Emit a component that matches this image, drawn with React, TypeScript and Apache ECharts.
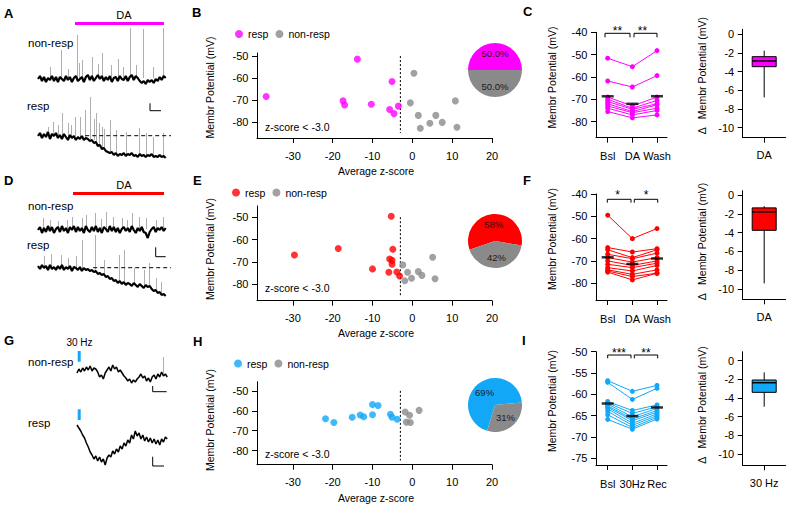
import React, { useEffect, useRef } from 'react';
import * as echarts from 'echarts';

const FONT = '"Liberation Sans", Arial, Helvetica, sans-serif';
const MAGENTA = '#ff00ff';
const RED = '#ff0000';
const BLUE = '#12a8f7';
const GRAY = '#8a8a8a';

// ---------- traces (relative mV, sampled every step) ----------
const stepAD = 3;
const stepG = 2;
const traceA_non = [0,3,-2,2,-3,1,-1,3,-2,2,-3,2,0,-2,3,-1,2,-3,1,3,-2,0,2,-3,2,4,-1,3,-2,1,4,0,3,-2,2,-1,3,-3,1,2,-2,3,0,-1,3,-2,2,4,-1,3,1,-2,-4,-2,-5,-1,-3,-1,-4,0,-2,2,-1,3,1];
const traceA_resp = [1,4,-1,3,0,5,-2,3,1,4,-1,2,-2,3,0,-3,2,-1,1,-3,0,-2,1,-3,-1,-2,-4,-3,-6,-5,-9,-8,-12,-11,-14,-15,-16,-15,-18,-16,-19,-17,-18,-16,-19,-17,-18,-16,-19,-18,-20,-17,-19,-18,-20,-18,-19,-17,-20,-19,-20,-18,-20,-19,-21];
const traceD_non = [0,3,-3,2,-2,4,-1,3,-3,1,3,-2,4,-1,2,-3,3,0,4,-2,3,-1,2,-3,4,0,-2,3,-1,4,-2,2,-3,3,1,-2,4,-1,3,-2,2,-3,1,3,-1,2,-2,4,0,-3,2,-1,3,-2,-3,-8,-2,1,3,-2,2,0,3,-1,2];
const traceD_resp = [2,-1,3,0,2,-2,3,-1,1,-2,2,-1,3,-2,1,-1,2,-3,1,0,-2,1,-3,0,-2,-1,-3,-2,-4,-3,-6,-5,-7,-6,-9,-8,-11,-10,-13,-12,-15,-13,-16,-14,-17,-15,-16,-18,-15,-17,-19,-16,-18,-20,-17,-19,-18,-21,-23,-22,-25,-24,-27,-26,-28];
const traceG_non = [0,4,1,5,2,6,3,7,2,5,4,1,-4,-2,-6,0,3,6,2,8,4,6,1,3,0,-3,-5,-8,-6,-10,-7,-9,-6,-4,-1,-5,-3,-8,-5,-9,-4,-2,-6,-1,-4,1,-3,-1,-4];
const traceG_resp = [0,-3,-6,-10,-13,-18,-22,-27,-30,-34,-31,-36,-32,-37,-34,-40,-33,-30,-32,-26,-29,-24,-27,-21,-24,-18,-21,-15,-18,-10,-14,-6,-11,-8,-14,-10,-16,-12,-17,-13,-18,-14,-19,-15,-20,-14,-17,-12,-14];
// spikes: [time, base, peak]
const spikesA_non = [[18,1,12],[35,1,29],[45,1,10],[59,1,44],[62,1,16],[67,1,19],[82,1,22],[90,1,15],[97,1,26],[110,1,14],[120,1,20],[128,1,12],[138,2,51],[148,1,14],[158,1,50],[174,1,12],[189,1,51]];
const spikesA_resp = [[15,2,10],[23,2,15],[30,1,12],[36,1,24],[45,0,14],[50,0,12],[56,1,20],[64,0,20],[71,-1,27],[79,-2,40],[84,-3,18],[88,-5,24],[92,-7,14],[96,-10,10],[100,-11,8],[108,-14,17],[118,-17,7],[133,-18,5],[153,-18,9],[163,-19,4],[173,-19,0],[188,-20,4]];
const spikesD_non = [[8,1,12],[18,1,10],[30,1,9],[44,1,10],[51,1,13],[66,1,12],[73,1,15],[86,1,17],[95,1,11],[103,1,18],[113,1,13],[126,1,12],[134,1,10],[141,1,17],[153,1,13],[163,1,12],[178,1,10],[188,1,13]];
const spikesD_resp = [[10,2,12],[20,1,14],[35,0,13],[45,0,10],[58,0,12],[66,-1,28],[86,-3,33],[100,-7,8],[122,-13,13],[130,-14,18],[145,-16,0],[160,-17,-2],[168,-18,5],[178,-22,-10],[185,-25,-14]];
const spikesG_non = [[92,-3,16]];
const baselineA = 1.3;
const baselineD = 0.3;

// ---------- scatter panels: [average z-score, membrane potential] ----------
const respB = [[-36.7,-68.4],[-13.8,-51.4],[-17.4,-70.4],[-17.0,-72.3],[-10.3,-71.9],[-5.1,-61.6],[-5.7,-74.3],[-4.6,-76.2],[-3.5,-72.8]];
const nonB = [[0.4,-57.8],[-0.5,-71.3],[1.5,-77.0],[2.0,-82.9],[4.4,-80.6],[5.9,-77.0],[7.5,-80.2],[10.8,-70.4],[11.2,-82.4]];
const respE = [[-29.6,-66.9],[-18.6,-64.0],[-5.3,-49.6],[-4.9,-64.3],[-5.7,-68.7],[-5.1,-69.3],[-5.1,-71.0],[-10.0,-73.1],[-5.9,-74.6],[-3.9,-74.5],[-3.2,-76.3]];
const nonE = [[-2.4,-71.3],[-1.2,-74.6],[-1.9,-78.4],[-0.2,-77.3],[1.5,-74.3],[2.4,-76.0],[5.1,-67.9],[5.7,-77.5]];
const respH = [[-21.8,-64.0],[-19.7,-65.9],[-15.1,-63.3],[-13.1,-62.1],[-12.2,-63.0],[-10.0,-56.9],[-8.6,-57.4],[-10.0,-62.0],[-5.5,-61.8],[-5.1,-63.3],[-3.8,-64.3]];
const nonH = [[-1.8,-60.6],[-0.7,-62.3],[-1.5,-65.7],[-0.5,-65.9],[1.7,-59.8]];
const zThreshold = -3;
const xTicksZ = [-30,-20,-10,0,10,20];
const yTicksMv = [-50,-60,-70,-80];

// ---------- paired panels ----------
const catsDA = ['Bsl','DA','Wash'];
const catsHz = ['Bsl','30Hz','Rec'];
const bslC = [-51.6,-61.8,-69,-70,-71,-72,-73,-74,-75.5];
const daC = [-55.4,-64.5,-73,-74,-74.5,-75.5,-76,-77,-78.3];
const washC = [-48.2,-59.4,-69,-70.5,-72,-72.5,-74,-75,-77];
const bslF = [-49.5,-64,-65,-67,-68.5,-70,-71.5,-73,-74,-74.5,-75];
const daF = [-60,-66,-68.5,-69,-70.5,-72,-73,-74.5,-76,-77,-78.5];
const washF = [-55.5,-64.5,-65,-66.5,-68.5,-70,-71,-72,-74,-75.5,-75.5];
const bslI = [-56.8,-57.2,-61.7,-62,-62.3,-62.7,-63,-63.4,-64,-64.8,-65.9];
const hzI = [-59.3,-61.2,-63.8,-64.5,-65.3,-65.8,-66.2,-66.8,-67.3,-67.8,-68.2];
const recI = [-57.9,-58.6,-62.5,-62.9,-63.3,-63.8,-64.2,-64.6,-65,-65.4,-65.8];
const yTicksC = [-40,-50,-60,-70,-80];
const yTicksI = [-50,-55,-60,-65,-70,-75];

// ---------- box plots: [min, Q1, median, Q3, max] ----------
const boxC = [-6.76,-3.47,-2.86,-2.4,-1.76];
const boxF = [-9.4,-3.75,-1.79,-1.36,-1.18];
const boxI = [-4.93,-3.39,-2.36,-2.07,-1.25];
const yTicksBox = [0,-2,-4,-6,-8,-10];

const mean = (a: number[]) => a.reduce((s, v) => s + v, 0) / a.length;

function buildOption() {
  const grids: any[] = [];
  const xAxes: any[] = [];
  const yAxes: any[] = [];
  const series: any[] = [];

  const lab = (margin: number) => ({ fontSize: 11, color: '#000', fontFamily: FONT, margin });
  const axLine = { show: true, onZero: false, lineStyle: { color: '#000', width: 1 } };
  const tick = { show: true, length: 5, lineStyle: { color: '#000', width: 1 } };

  const hiddenGrid = (left: number, top: number, width: number, height: number, xmin: number, xmax: number, ymin: number, ymax: number) => {
    const gi = grids.length;
    grids.push({ left, top, width, height });
    xAxes.push({ gridIndex: gi, type: 'value', min: xmin, max: xmax, show: false });
    yAxes.push({ gridIndex: gi, type: 'value', min: ymin, max: ymax, show: false });
    return gi;
  };
  const valueGrid = (left: number, top: number, width: number, height: number, xmin: number, xmax: number, xticks: number[], ymin: number, ymax: number, yticks: number[], xfmt?: (v: number) => string, xmargin = 12) => {
    const gi = grids.length;
    grids.push({ left, top, width, height });
    xAxes.push({ gridIndex: gi, type: 'value', min: xmin, max: xmax, splitLine: { show: false }, axisLine: axLine,
      axisTick: { ...tick, customValues: xticks }, axisLabel: { ...lab(xmargin), customValues: xticks, formatter: xfmt || ((v: number) => String(v)) } });
    yAxes.push({ gridIndex: gi, type: 'value', min: ymin, max: ymax, splitLine: { show: false }, axisLine: axLine,
      axisTick: { ...tick, customValues: yticks }, axisLabel: { ...lab(8.5), customValues: yticks } });
    return gi;
  };

  const trace = (gi: number, data: number[], step: number, width: number, spikes?: number[][]) => {
    series.push({
      type: 'line', xAxisIndex: gi, yAxisIndex: gi, silent: true, symbol: 'none', z: 3,
      data: data.map((v, i) => [i * step, v]), lineStyle: { color: '#000', width },
      markLine: spikes ? {
        silent: true, symbol: ['none', 'none'], label: { show: false }, z: 2,
        lineStyle: { color: '#9a9a9a', width: 0.8, type: 'solid' },
        data: spikes.map(([t, b, p]) => [{ coord: [t, b] }, { coord: [t, p] }]),
      } : undefined,
    });
  };
  const dashedH = (gi: number, y: number, x0: number, x1: number) => {
    series.push({ type: 'line', xAxisIndex: gi, yAxisIndex: gi, silent: true, symbol: 'none', z: 4,
      data: [[x0, y], [x1, y]], lineStyle: { color: '#000', width: 1, type: [4, 3] } });
  };

  // traces A
  let g = hiddenGrid(38, 24, 133, 66, 0, 200, -11, 55); trace(g, traceA_non, stepAD, 2.2, spikesA_non);
  g = hiddenGrid(38, 92, 133, 70, 0, 200, -25, 45); trace(g, traceA_resp, stepAD, 2.2, spikesA_resp); dashedH(g, baselineA, 71, 200);
  // traces D
  g = hiddenGrid(38, 205, 133, 40, 0, 200, -15, 25); trace(g, traceD_non, stepAD, 2.2, spikesD_non);
  g = hiddenGrid(38, 230, 133, 70, 0, 200, -32, 38); trace(g, traceD_resp, stepAD, 2.2, spikesD_resp); dashedH(g, baselineD, 83, 200);
  // traces G
  g = hiddenGrid(77, 353, 94, 35, 0, 100, -15, 20); trace(g, traceG_non, stepG, 1.5, spikesG_non);
  g = hiddenGrid(77, 420, 94, 50, 0, 100, -45, 5); trace(g, traceG_resp, stepG, 1.5);

  // scatter panels
  const scatterPanel = (key: string, top: number, height: number, ymin: number, ymax: number, resp: number[][], non: number[][], color: string) => {
    const gi = valueGrid(257, top, 235, height, -39, 20, xTicksZ, ymin, ymax, yTicksMv);
    series.push({ name: 'resp|' + key, type: 'scatter', xAxisIndex: gi, yAxisIndex: gi, data: resp, symbolSize: 7, itemStyle: { color }, z: 3 });
    series.push({ name: 'non-resp|' + key, type: 'scatter', xAxisIndex: gi, yAxisIndex: gi, data: non, symbolSize: 7, itemStyle: { color: GRAY }, z: 3 });
    series.push({ type: 'line', xAxisIndex: gi, yAxisIndex: gi, silent: true, symbol: 'none',
      data: [[zThreshold, -50], [zThreshold, -85]], lineStyle: { color: '#000', width: 1, type: [2, 2] } });
  };
  scatterPanel('B', 53, 85, -87.3, -48.6, respB, nonB, MAGENTA);
  scatterPanel('E', 206, 94.7, -87.3, -45, respE, nonE, RED);
  scatterPanel('H', 381.7, 83, -87.1, -45.4, respH, nonH, BLUE);

  // pies
  const pie = (cy: number, resp: number[][], non: number[][], color: string, start: number, dec: number) => {
    const total = resp.length + non.length;
    const lbl = { color: '#1a1a1a', textBorderWidth: 0, textBorderColor: 'none', textShadowBlur: 0 };
    series.push({
      type: 'pie', center: [495, cy], radius: 27, startAngle: start, clockwise: true, silent: true,
      label: { show: true, position: 'inside', fontSize: 9.5, fontFamily: FONT, ...lbl,
        formatter: (p: any) => ((p.value / total) * 100).toFixed(dec) + '%' },
      labelLine: { show: false },
      data: [
        { value: resp.length, name: 'r', itemStyle: { color }, label: lbl },
        { value: non.length, name: 'n', itemStyle: { color: GRAY }, label: lbl },
      ],
    });
  };
  pie(70, respB, nonB, MAGENTA, 180, 1);
  pie(241, respE, nonE, RED, 199, 0);
  pie(405, respH, nonH, BLUE, 253, 0);

  // paired panels
  const pairedPanel = (top: number, height: number, ymin: number, ymax: number, yticks: number[], cats: string[], a: number[], b: number[], c: number[], color: string) => {
    const gi = valueGrid(596, top, 71, height, -0.475, 2.405, [0, 1, 2], ymin, ymax, yticks, (v: number) => cats[Math.round(v)], 13);
    a.forEach((_, i) => {
      series.push({ type: 'line', xAxisIndex: gi, yAxisIndex: gi, silent: true, symbol: 'circle', symbolSize: 5,
        data: [[0, a[i]], [1, b[i]], [2, c[i]]], lineStyle: { color, width: 1 }, itemStyle: { color } });
    });
    series.push({ type: 'scatter', xAxisIndex: gi, yAxisIndex: gi, silent: true, symbol: 'rect', symbolSize: [12, 2.5], z: 10,
      data: [[0, mean(a)], [1, mean(b)], [2, mean(c)]], itemStyle: { color: '#000' } });
  };
  pairedPanel(32.3, 105.4, -87.2, -40, yTicksC, catsDA, bslC, daC, washC, MAGENTA);
  pairedPanel(194, 106, -87.5, -40, yTicksC, catsDA, bslF, daF, washF, RED);
  pairedPanel(351.7, 113.3, -76.6, -50, yTicksI, catsHz, bslI, hzI, recI, BLUE);

  // box panels
  const boxPanel = (top: number, height: number, ymin: number, ymax: number, cat: string, box: number[], color: string) => {
    const gi = grids.length;
    grids.push({ left: 742.7, top, width: 43, height });
    xAxes.push({ gridIndex: gi, type: 'category', data: [cat], boundaryGap: true, axisLine: axLine,
      axisTick: { ...tick, alignWithLabel: true }, axisLabel: lab(12) });
    yAxes.push({ gridIndex: gi, type: 'value', min: ymin, max: ymax, splitLine: { show: false }, axisLine: axLine,
      axisTick: { ...tick, customValues: yTicksBox }, axisLabel: { ...lab(8.5), customValues: yTicksBox } });
    series.push({
      type: 'custom', xAxisIndex: gi, yAxisIndex: gi, silent: true, data: [[0, ...box]], encode: { x: 0, y: [1, 2, 3, 4, 5] },
      renderItem: (params: any, api: any) => {
        const x0 = api.value(0);
        const pMin = api.coord([x0, api.value(1)]);
        const pQ1 = api.coord([x0, api.value(2)]);
        const pMed = api.coord([x0, api.value(3)]);
        const pQ3 = api.coord([x0, api.value(4)]);
        const pMax = api.coord([x0, api.value(5)]);
        const w = 24;
        const cx = pMin[0];
        return {
          type: 'group', children: [
            { type: 'line', shape: { x1: cx, y1: pMax[1], x2: cx, y2: pMin[1] }, style: { stroke: '#000', lineWidth: 1 } },
            { type: 'rect', shape: { x: cx - w / 2, y: pQ3[1], width: w, height: pQ1[1] - pQ3[1] }, style: { fill: color, stroke: '#000', lineWidth: 1 } },
            { type: 'line', shape: { x1: cx - w / 2, y1: pMed[1], x2: cx + w / 2, y2: pMed[1] }, style: { stroke: '#000', lineWidth: 1.5 } },
          ],
        };
      },
    });
  };
  boxPanel(29.3, 108.4, -11.07, 0.53, 'DA', boxC, MAGENTA);
  boxPanel(190.7, 108.6, -11.1, 0.47, 'DA', boxF, RED);
  boxPanel(351.7, 113.6, -11.2, 0.96, '30 Hz', boxI, BLUE);

  // ---------- annotations ----------
  const T = (x: number, y: number, s: string, o: any = {}) => ({
    type: 'text', x, y, silent: true, rotation: o.rot || 0,
    style: { text: s, fill: '#000', fontSize: o.size || 10.5, fontFamily: FONT, fontWeight: o.bold ? 'bold' : 'normal',
      align: o.align || 'center', verticalAlign: 'middle', textAlign: o.align || 'center', textVerticalAlign: 'middle' },
  });
  const PL = (pts: number[][]) => ({ type: 'polyline', silent: true, shape: { points: pts }, style: { stroke: '#000', lineWidth: 1, fill: null } });
  const R = (x: number, y: number, w: number, h: number, fill: string) => ({ type: 'rect', silent: true, shape: { x, y, width: w, height: h }, style: { fill } });
  const ROT = Math.PI / 2;
  const L = { bold: true, size: 13, align: 'left' };
  const graphic: any[] = [
    T(4, 13, 'A', L), T(192, 12, 'B', L), T(523, 11, 'C', L),
    T(4, 180, 'D', L), T(193, 180, 'E', L), T(523, 180, 'F', L),
    T(4, 340, 'G', L), T(193, 341, 'H', L), T(522, 340, 'I', L),
    // trace labels
    T(124, 15, 'DA', { size: 11 }), R(75, 22, 89, 3, MAGENTA),
    T(28, 43, 'non-resp', { size: 11.5, align: 'left' }), T(27, 106, 'resp', { size: 11.5, align: 'left' }),
    PL([[150, 103.3], [150, 110.7], [161, 110.7]]),
    T(124, 185, 'DA', { size: 11 }), R(73, 192, 91, 3, RED),
    T(28, 206, 'non-resp', { size: 11.5, align: 'left' }), T(27, 245, 'resp', { size: 11.5, align: 'left' }),
    PL([[155.7, 247.3], [155.7, 256.7], [165.7, 256.7]]),
    T(79.5, 342, '30 Hz', { size: 10 }),
    R(77.7, 351, 3, 10.7, BLUE), R(77.7, 409.3, 3, 10.7, BLUE),
    T(28, 362, 'non-resp', { size: 11.5, align: 'left' }), T(28, 423, 'resp', { size: 11.5, align: 'left' }),
    PL([[152.7, 386], [152.7, 391.7], [166.7, 391.7]]),
    PL([[152.7, 456.7], [152.7, 466], [164, 466]]),
    // scatter axis names
    T(210, 87.5, 'Membr Potential (mV)', { rot: ROT }), T(376, 171, 'Average z-score'), T(265, 126.7, 'z-score < -3.0', { align: 'left' }),
    T(210, 249, 'Membr Potential (mV)', { rot: ROT }), T(376, 333.3, 'Average z-score'), T(265, 288.3, 'z-score < -3.0', { align: 'left' }),
    T(210, 420, 'Membr Potential (mV)', { rot: ROT }), T(376, 498, 'Average z-score'), T(265, 454, 'z-score < -3.0', { align: 'left' }),
    // paired / box names
    T(551.7, 77.5, 'Membr Potential (mV)', { rot: ROT }), T(551.7, 239, 'Membr Potential (mV)', { rot: ROT }), T(551.7, 401, 'Membr Potential (mV)', { rot: ROT }),
    T(701.7, 75.7, 'Δ   Membr Potential (mV)', { rot: ROT }), T(701.7, 241.5, 'Δ   Membr Potential (mV)', { rot: ROT }), T(701.7, 405, 'Δ   Membr Potential (mV)', { rot: ROT }),
    // significance
    PL([[605, 37.3], [605, 33.3], [630, 33.3], [630, 37.3]]), PL([[634, 37.3], [634, 33.3], [657, 33.3], [657, 37.3]]),
    T(617.5, 30.8, '**', { size: 12 }), T(642.5, 30.8, '**', { size: 12 }),
    PL([[607.3, 202.7], [607.3, 199.3], [631, 199.3], [631, 202.7]]), PL([[634.3, 202.7], [634.3, 199.3], [657.7, 199.3], [657.7, 202.7]]),
    T(617.7, 195.2, '*', { size: 12 }), T(646, 195.2, '*', { size: 12 }),
    PL([[607.7, 358.3], [607.7, 355], [631, 355], [631, 358.3]]), PL([[634.3, 358.3], [634.3, 355], [657.7, 355], [657.7, 358.3]]),
    T(619, 352.5, '***', { size: 12 }), T(646, 352.5, '**', { size: 12 }),
  ];

  const legend = (key: string, left: number, top: number) => ({
    left, top, orient: 'horizontal', padding: 0, itemWidth: 8, itemHeight: 8, itemGap: 7, selectedMode: false, icon: 'circle',
    data: ['resp|' + key, 'non-resp|' + key], formatter: (n: string) => n.split('|')[0],
    textStyle: { fontSize: 10.5, fontFamily: FONT, color: '#000' },
  });

  return {
    animation: false,
    backgroundColor: '#fff',
    textStyle: { fontFamily: FONT },
    grid: grids, xAxis: xAxes, yAxis: yAxes, series, graphic,
    legend: [legend('B', 235, 28.5), legend('E', 232, 187), legend('H', 234, 358)],
  };
}

export default function App() {
  const ref = useRef<HTMLDivElement>(null);
  useEffect(() => {
    const chart = echarts.init(ref.current!, null, { renderer: 'svg' });
    chart.setOption(buildOption() as any);
    return () => chart.dispose();
  }, []);
  return <div ref={ref} style={{ position: 'absolute', left: 0, top: 0, width: 796, height: 509, background: '#fff' }} />;
}
